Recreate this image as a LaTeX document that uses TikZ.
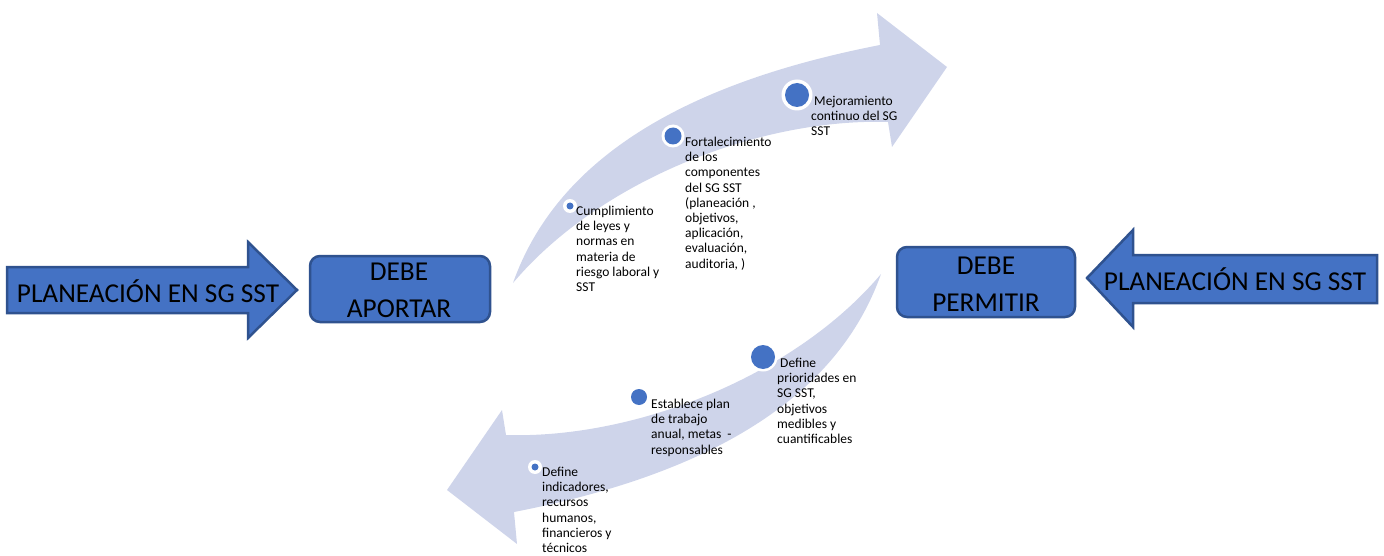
\documentclass[tikz,border=0pt]{standalone}
\usepackage{fontspec}
\setmainfont{Carlito}
\definecolor{mblue}{HTML}{4472C4}
\definecolor{mborder}{HTML}{2F528F}
\definecolor{mlight}{HTML}{CED4EA}
\tikzset{
  bigshape/.style={fill=mblue, draw=mborder, line width=2.5pt, line join=miter},
  bigtext/.style={font=\fontsize{27.3}{37}\selectfont, align=center, inner sep=0pt, text=black},
  curvearrow/.style={fill=mlight, draw=none},
  smalltext/.style={font=\fontsize{13.5}{15.2}\selectfont, align=left, inner sep=0pt, anchor=north west, text=black},
  dotring/.style={fill=white, draw=none},
  dot/.style={fill=mblue, draw=none}
}
\begin{document}
\begin{tikzpicture}[x=1pt,y=-1pt]
\useasboundingbox (0,0) rectangle (1384,556);
% curved arrows
\path[curvearrow] (513,283) .. controls (560,150) and (700,80) .. (880,45) -- (877,13) -- (947,67) -- (892,147) -- (888,122) .. controls (760,118) and (600,180) .. cycle;
\path[curvearrow, rotate around={180:(697,278.5)}] (513,283) .. controls (560,150) and (700,80) .. (880,45) -- (877,13) -- (947,67) -- (892,147) -- (888,122) .. controls (760,118) and (600,180) .. cycle;
% left big arrow
\path[bigshape] (7,267) -- (248,267) -- (248,242) -- (297,290) -- (248,338) -- (248,313) -- (7,313) -- cycle;
\node[bigtext] (pl1) at (148,291) {PLANEACIÓN EN SG SST};
% right big arrow
\path[bigshape] (1377,255) -- (1133,255) -- (1133,230) -- (1087,278) -- (1133,327) -- (1133,303) -- (1377,303) -- cycle;
\node[bigtext] (pl2) at (1235,279) {PLANEACIÓN EN SG SST};
% boxes
\draw[bigshape, rounded corners=10pt] (310,256) rectangle (490,322);
\node[bigtext] (b1) at (399,290) {DEBE\\APORTAR};
\draw[bigshape, rounded corners=10pt] (897,247) rectangle (1075,317);
\node[bigtext] (b2) at (986,284) {DEBE\\PERMITIR};
% dots upper
\fill[dotring] (570,206) circle (7);  \fill[dot] (570,206) circle (3.5);
\fill[dotring] (673,136) circle (11.5); \fill[dot] (673,136) circle (8.5);
\fill[dotring] (797,95) circle (15.5); \fill[dot] (797,95) circle (12);
% dots lower
\fill[dotring] (763,357) circle (14.5); \fill[dot] (763,357) circle (12);
\fill[dotring] (639,397) circle (10.5); \fill[dot] (639,397) circle (8);
\fill[dotring] (535,467) circle (7);  \fill[dot] (535,467) circle (3.5);
% texts
\node[smalltext] (t1) at (576,206) {Cumplimiento\\de leyes y\\normas en\\materia de\\riesgo laboral y\\SST};
\node[smalltext] (t2) at (685,137) {Fortalecimiento\\de los\\componentes\\del SG SST\\(planeación ,\\objetivos,\\aplicación,\\evaluación,\\auditoria, )};
\node[smalltext] (t3) at (811,96) {\hspace{3pt}Mejoramiento\\continuo del SG\\SST};
\node[smalltext] (t5) at (777,358) {\hspace{3pt}Define\\prioridades en\\SG SST,\\objetivos\\medibles y\\cuantificables};
\node[smalltext] (t4) at (651,399) {Establece plan\\de trabajo\\anual, metas\ \ -\\responsables};
\node[smalltext] (t6) at (542,467) {Define\\indicadores,\\recursos\\humanos,\\financieros y\\técnicos};
\end{tikzpicture}
\end{document}
